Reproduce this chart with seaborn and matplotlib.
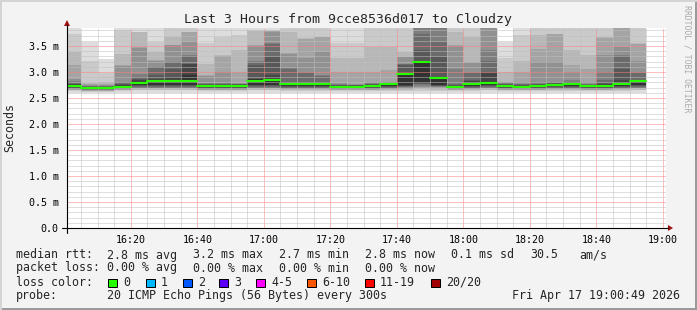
import numpy as np
import pandas as pd
import matplotlib
matplotlib.use("Agg")
import matplotlib.pyplot as plt
import seaborn as sns
from matplotlib.patches import Rectangle, Polygon
from matplotlib.lines import Line2D

sns.set_theme(style="white")
plt.rcParams['font.family'] = ['DejaVu Sans Mono', 'DejaVu Sans']

# ---------------- data (ms) ----------------
# start of each 5-minute interval, minutes after 16:00
interval_start = [0, 5, 10, 15, 20, 25, 30, 35, 40, 45, 50, 55, 60, 65, 70, 75, 80, 85,
                  90, 95, 100, 105, 110, 115, 120, 125, 130, 135, 140, 145, 150, 155,
                  160, 165, 170]
interval_len = 5

median_rtt = [2.73, 2.70, 2.70, 2.72, 2.79, 2.83, 2.82, 2.83, 2.73, 2.73, 2.73, 2.83,
              2.85, 2.76, 2.76, 2.76, 2.72, 2.72, 2.73, 2.77, 2.97, 3.19, 2.88, 2.72,
              2.77, 2.79, 2.73, 2.72, 2.73, 2.75, 2.77, 2.73, 2.73, 2.77, 2.82]

# upper ten of the 20 sorted pings per interval (ascending)
upper_pings = [
    [2.745, 2.76, 2.77, 2.79, 2.83, 2.87, 3.13, 3.39, 3.74, 4.00],
    [2.705, 2.715, 2.72, 2.73, 2.74, 2.75, 2.76, 2.78, 3.21, 3.58],
    [2.705, 2.715, 2.72, 2.73, 2.74, 2.75, 2.76, 2.80, 2.98, 3.25],
    [2.735, 2.75, 2.76, 2.78, 2.80, 3.12, 3.13, 3.35, 3.80, 3.90],
    [2.81, 2.85, 2.87, 2.90, 2.97, 3.47, 3.48, 3.76, 3.77, 3.95],
    [2.845, 2.87, 2.94, 3.09, 3.10, 3.22, 3.23, 3.39, 3.58, 4.00],
    [2.83, 2.90, 3.06, 3.19, 3.20, 3.51, 3.52, 3.67, 3.95, 4.20],
    [2.94, 3.15, 3.16, 3.31, 3.32, 3.58, 3.76, 3.77, 4.00, 4.30],
    [2.74, 2.75, 2.76, 2.77, 2.78, 2.93, 2.94, 3.16, 3.55, 3.95],
    [2.74, 2.75, 2.76, 2.77, 2.78, 3.00, 3.31, 3.32, 3.67, 3.95],
    [2.74, 2.75, 2.76, 2.765, 2.77, 2.78, 3.00, 3.42, 3.71, 3.95],
    [2.86, 2.87, 3.13, 3.20, 3.22, 3.50, 3.51, 3.79, 3.80, 3.95],
    [2.87, 2.94, 3.29, 3.54, 3.55, 3.77, 3.78, 3.79, 3.80, 3.95],
    [2.775, 2.79, 2.81, 3.06, 3.07, 3.35, 3.36, 3.77, 3.90, 4.10],
    [2.775, 2.79, 2.81, 2.99, 3.00, 3.26, 3.64, 3.65, 3.90, 4.10],
    [2.775, 2.79, 2.81, 2.93, 2.94, 3.39, 3.67, 3.68, 3.90, 4.10],
    [2.73, 2.74, 2.75, 2.755, 2.765, 2.78, 3.00, 3.26, 3.55, 3.95],
    [2.73, 2.74, 2.745, 2.75, 2.755, 2.76, 3.00, 3.26, 3.55, 3.95],
    [2.74, 2.75, 2.76, 2.77, 2.78, 2.81, 3.00, 3.48, 3.90, 4.10],
    [2.78, 2.785, 2.79, 2.795, 2.80, 2.81, 3.03, 3.48, 3.90, 4.10],
    [2.99, 3.00, 3.14, 3.15, 3.16, 3.28, 3.29, 3.39, 3.90, 4.10],
    [3.20, 3.21, 3.42, 3.74, 3.90, 3.95, 4.00, 4.10, 4.30, 4.50],
    [2.89, 2.90, 3.29, 3.58, 3.90, 3.95, 4.00, 4.10, 4.20, 4.40],
    [2.73, 2.74, 2.75, 2.76, 3.06, 3.50, 3.51, 3.77, 3.90, 4.10],
    [2.79, 2.83, 2.84, 2.99, 3.00, 3.18, 3.19, 3.67, 3.90, 4.10],
    [2.81, 2.99, 3.00, 3.22, 3.42, 3.90, 4.00, 4.10, 4.20, 4.40],
    [2.74, 2.75, 2.76, 2.77, 2.78, 2.80, 2.81, 3.00, 3.26, 3.58],
    [2.73, 2.74, 2.75, 2.76, 2.77, 2.81, 3.00, 3.22, 3.71, 3.95],
    [2.74, 2.75, 2.76, 2.77, 2.81, 3.19, 3.45, 3.71, 3.90, 4.10],
    [2.76, 2.77, 2.78, 2.79, 2.81, 3.19, 3.73, 3.74, 3.90, 4.10],
    [2.78, 2.79, 2.80, 2.81, 2.84, 3.00, 3.13, 3.42, 3.90, 4.10],
    [2.74, 2.75, 2.755, 2.76, 2.77, 2.81, 3.06, 3.32, 3.90, 4.10],
    [2.745, 2.76, 2.78, 2.84, 3.00, 3.32, 3.66, 3.67, 3.90, 4.10],
    [2.79, 2.84, 3.06, 3.31, 3.32, 3.48, 3.90, 4.00, 4.10, 4.30],
    [2.83, 2.835, 2.84, 2.99, 3.00, 3.22, 3.54, 3.55, 3.90, 4.10],
]

# lower ten of the 20 sorted pings per interval (ascending)
lower_pings = [
    [2.60, 2.63, 2.645, 2.66, 2.67, 2.68, 2.69, 2.70, 2.71, 2.72],
    [2.59, 2.61, 2.63, 2.64, 2.65, 2.66, 2.67, 2.68, 2.69, 2.70],
    [2.59, 2.61, 2.63, 2.64, 2.65, 2.66, 2.67, 2.68, 2.69, 2.70],
    [2.60, 2.63, 2.645, 2.66, 2.67, 2.68, 2.69, 2.70, 2.71, 2.72],
    [2.60, 2.645, 2.65, 2.685, 2.69, 2.70, 2.71, 2.74, 2.745, 2.75],
    [2.60, 2.645, 2.65, 2.685, 2.69, 2.70, 2.71, 2.74, 2.745, 2.75],
    [2.60, 2.645, 2.65, 2.685, 2.69, 2.70, 2.71, 2.74, 2.745, 2.75],
    [2.60, 2.645, 2.65, 2.685, 2.69, 2.70, 2.71, 2.74, 2.745, 2.75],
    [2.60, 2.63, 2.645, 2.66, 2.67, 2.68, 2.69, 2.70, 2.71, 2.72],
    [2.60, 2.63, 2.645, 2.66, 2.67, 2.68, 2.69, 2.70, 2.71, 2.72],
    [2.60, 2.63, 2.645, 2.66, 2.67, 2.68, 2.69, 2.70, 2.71, 2.72],
    [2.60, 2.645, 2.65, 2.685, 2.69, 2.70, 2.71, 2.74, 2.745, 2.75],
    [2.60, 2.645, 2.65, 2.685, 2.69, 2.70, 2.71, 2.74, 2.745, 2.75],
    [2.60, 2.635, 2.65, 2.67, 2.68, 2.69, 2.70, 2.72, 2.73, 2.74],
    [2.60, 2.635, 2.65, 2.67, 2.68, 2.69, 2.70, 2.72, 2.73, 2.74],
    [2.60, 2.635, 2.65, 2.67, 2.68, 2.69, 2.70, 2.72, 2.73, 2.74],
    [2.60, 2.63, 2.645, 2.66, 2.67, 2.68, 2.69, 2.70, 2.71, 2.72],
    [2.60, 2.63, 2.645, 2.66, 2.67, 2.68, 2.69, 2.70, 2.71, 2.72],
    [2.60, 2.63, 2.645, 2.66, 2.67, 2.68, 2.69, 2.70, 2.71, 2.72],
    [2.60, 2.635, 2.65, 2.67, 2.68, 2.69, 2.70, 2.72, 2.73, 2.74],
    [2.60, 2.64, 2.66, 2.68, 2.70, 2.71, 2.72, 2.73, 2.74, 2.75],
    [2.60, 2.64, 2.67, 2.70, 2.72, 2.74, 2.76, 2.77, 2.78, 2.79],
    [2.60, 2.64, 2.66, 2.69, 2.71, 2.72, 2.73, 2.74, 2.745, 2.75],
    [2.60, 2.63, 2.645, 2.66, 2.67, 2.68, 2.69, 2.70, 2.71, 2.72],
    [2.60, 2.635, 2.65, 2.67, 2.68, 2.69, 2.70, 2.72, 2.73, 2.74],
    [2.60, 2.645, 2.65, 2.685, 2.69, 2.70, 2.71, 2.74, 2.745, 2.75],
    [2.60, 2.63, 2.645, 2.66, 2.67, 2.68, 2.69, 2.70, 2.71, 2.72],
    [2.60, 2.63, 2.645, 2.66, 2.67, 2.68, 2.69, 2.70, 2.71, 2.72],
    [2.60, 2.63, 2.645, 2.66, 2.67, 2.68, 2.69, 2.70, 2.71, 2.72],
    [2.60, 2.635, 2.65, 2.67, 2.68, 2.69, 2.70, 2.72, 2.73, 2.74],
    [2.60, 2.635, 2.65, 2.67, 2.68, 2.69, 2.70, 2.72, 2.73, 2.74],
    [2.60, 2.63, 2.645, 2.66, 2.67, 2.68, 2.69, 2.70, 2.71, 2.72],
    [2.60, 2.63, 2.645, 2.66, 2.67, 2.68, 2.69, 2.70, 2.71, 2.72],
    [2.60, 2.635, 2.65, 2.67, 2.68, 2.69, 2.70, 2.72, 2.73, 2.74],
    [2.60, 2.645, 2.65, 2.685, 2.69, 2.70, 2.71, 2.74, 2.745, 2.75],
]

x_tick_labels = ["16:20", "16:40", "17:00", "17:20", "17:40", "18:00", "18:20", "18:40", "19:00"]
y_tick_values = [0.0, 0.5, 1.0, 1.5, 2.0, 2.5, 3.0, 3.5]
y_tick_labels = ["0.0", "0.5 m", "1.0 m", "1.5 m", "2.0 m", "2.5 m", "3.0 m", "3.5 m"]

loss_labels = ["0", "1", "2", "3", "4-5", "6-10", "11-19", "20/20"]
loss_colors = ["#26ff00", "#00b8ff", "#0059ff", "#5e00ff", "#ff00ff", "#ff5500", "#ff0000", "#a10000"]

window_start = 0 + 49 / 60.0     # 16:00:49
window_end = 180 + 49 / 60.0     # 19:00:49
y_top = 3.846

# ---------------- figure ----------------
W, H = 697, 310
fig = plt.figure(figsize=(W / 100, H / 100), dpi=100)
fig.patch.set_facecolor('#f3f3f3')

def fx(px):
    return px / W

def fy(py):
    return 1 - py / H

left, right, top, bottom = 67, 665.5, 28, 228
ax = fig.add_axes([fx(left), fy(bottom), (right - left) / W, (bottom - top) / H])
ax.set_facecolor('white')
ax.set_xlim(window_start, window_end)
ax.set_ylim(0, y_top)

# smoke layers (smokeping style): layer i spans i-th lowest to i-th highest ping
starts = np.array(interval_start, dtype=float)
lo = np.array(lower_pings)
up = np.array(upper_pings)
half = 10
for i in range(half):
    g = int(190 / half * (half - 1 - i)) + 50
    col = '#%02x%02x%02x' % (g, g, g)
    b = lo[:, i]
    t = up[:, half - 1 - i]
    ax.bar(starts, t - b, bottom=b, width=interval_len, align='edge',
           color=col, linewidth=0, zorder=1 + i * 0.01)

# median line: one horizontal segment per interval
seg_t, seg_v, seg_id = [], [], []
for k, (s0, m) in enumerate(zip(interval_start, median_rtt)):
    seg_t += [s0, s0 + interval_len]
    seg_v += [m, m]
    seg_id += [k, k]
df_med = pd.DataFrame({"t": seg_t, "rtt": seg_v, "interval": seg_id})
sns.lineplot(data=df_med, x="t", y="rtt", units="interval", estimator=None, ax=ax,
             color='#26ff00', linewidth=1.5, zorder=4)
ax.set_xlabel("")
ax.set_ylabel("")

# ticks and grid
tick_pos = [20 + 20 * k for k in range(len(x_tick_labels))]
ax.set_xticks(tick_pos)
ax.set_xticklabels(x_tick_labels)
ax.set_xticks(np.arange(5, 181, 5), minor=True)
ax.set_yticks(y_tick_values)
ax.set_yticklabels(y_tick_labels)
ax.set_yticks(np.arange(0.1, 3.85, 0.1), minor=True)

ax.set_axisbelow(False)
ax.grid(which='major', color=(1.0, 0.5, 0.5, 0.65), linestyle=(0, (1, 1)), linewidth=0.72)
ax.grid(which='minor', color=(0.75, 0.75, 0.75, 0.55), linestyle=(0, (1, 1)), linewidth=0.72)

ax.tick_params(axis='both', which='major', labelsize=7.2, colors='#000000',
               length=2.5, width=0.72, direction='out')
ax.tick_params(axis='both', which='major', color='#e07070')
ax.tick_params(axis='both', which='minor', length=1.5, width=0.72, color='#c8c8c8', direction='out')
ax.tick_params(axis='y', which='major', pad=3.4)
ax.tick_params(axis='x', which='major', pad=2.6)
for s in ax.spines.values():
    s.set_visible(False)

# axis lines with arrows
fig.add_artist(Line2D([fx(62), fx(668)], [fy(228), fy(228)], color='black', lw=0.8))
fig.add_artist(Line2D([fx(67), fx(67)], [fy(233), fy(25)], color='black', lw=0.8))
fig.add_artist(Polygon([[fx(668), fy(225)], [fx(673), fy(228)], [fx(668), fy(231)]],
                       closed=True, color='#a01010', lw=0))
fig.add_artist(Polygon([[fx(64), fy(26)], [fx(67), fy(20)], [fx(70), fy(26)]],
                       closed=True, color='#a01010', lw=0))

# texts
fig.text(fx(348), fy(19), "Last 3 Hours from 9cce8536d017 to Cloudzy",
         ha='center', va='center', fontsize=9.5)
fig.text(fx(10), fy(128), "Seconds", rotation=90, ha='center', va='center', fontsize=8.4)
fig.text(fx(687), fy(59), "RRDTOOL / TOBI OETIKER", rotation=270, ha='center', va='center',
         fontsize=5.9, color='#aaaaaa')

fs = 8.4
row1 = [(16, "median rtt:"), (107, "2.8 ms avg"), (193, "3.2 ms max"), (279, "2.7 ms min"),
        (365, "2.8 ms now"), (451, "0.1 ms sd"), (530, "30.5"), (579, "am/s")]
row2 = [(16, "packet loss:"), (107, "0.00 % avg"), (193, "0.00 % max"), (279, "0.00 % min"),
        (365, "0.00 % now")]
for xp, s in row1:
    fig.text(fx(xp), fy(255), s, ha='left', va='center', fontsize=fs)
for xp, s in row2:
    fig.text(fx(xp), fy(268), s, ha='left', va='center', fontsize=fs)
fig.text(fx(16), fy(282), "loss color:", ha='left', va='center', fontsize=fs)
box_x = [108, 146, 183, 219, 256, 307, 365, 431]
for bx, lab, c in zip(box_x, loss_labels, loss_colors):
    fig.add_artist(Rectangle((fx(bx), fy(287)), 8.5 / W, 8.5 / H, facecolor=c,
                             edgecolor='black', linewidth=0.72))
    fig.text(fx(bx + 15), fy(282), lab, ha='left', va='center', fontsize=fs)
fig.text(fx(16), fy(296), "probe:", ha='left', va='center', fontsize=fs)
fig.text(fx(107), fy(296), "20 ICMP Echo Pings (56 Bytes) every 300s", ha='left', va='center', fontsize=fs)
fig.text(fx(680), fy(296), "Fri Apr 17 19:00:49 2026", ha='right', va='center', fontsize=fs)

# frame border
fig.add_artist(Rectangle((0, 0), 1, 2 / H, facecolor='#9a9a9a', edgecolor='none'))
fig.add_artist(Rectangle((1 - 2 / W, 0), 2 / W, 1, facecolor='#9a9a9a', edgecolor='none'))
fig.add_artist(Rectangle((0, 1 - 2 / H), 1, 2 / H, facecolor='#d4d4d4', edgecolor='none'))
fig.add_artist(Rectangle((0, 0), 2 / W, 1, facecolor='#d4d4d4', edgecolor='none'))

fig.savefig("out.png", dpi=100, facecolor=fig.get_facecolor())
